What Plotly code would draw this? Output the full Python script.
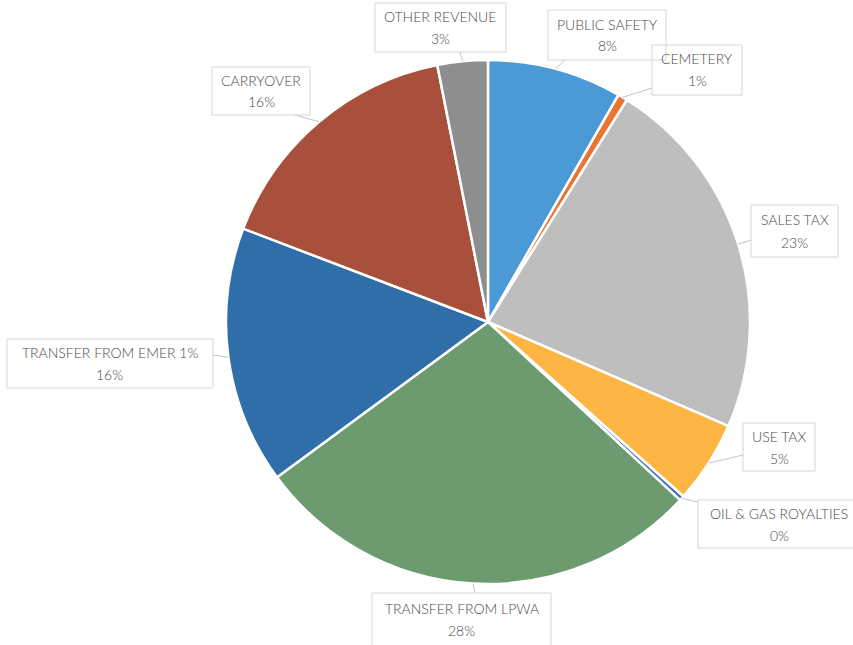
import math
import plotly.graph_objects as go

# Revenue sources, clockwise from 12 o'clock
categories = ["PUBLIC SAFETY", "CEMETERY", "SALES TAX", "USE TAX", "OIL & GAS ROYALTIES",
              "TRANSFER FROM LPWA", "TRANSFER FROM EMER 1%", "CARRYOVER", "OTHER REVENUE"]
shares = [8.3, 0.6, 22.6, 5.1, 0.3, 28.0, 15.9, 16.1, 3.1]
colors = ["#4B9AD6", "#EC7431", "#BEBEBE", "#FDB544", "#3F6FBF",
          "#6B9B6F", "#2F6EA8", "#A8503B", "#8E8E8E"]

W, H = 853, 645
CX, CY, R = 488, 322, 262  # pie centre and radius in pixels


def px(x):
    return x / W


def py(y):
    return 1 - y / H


total = sum(shares)
pct_labels = [f"{round(v / total * 100)}%" for v in shares]

fig = go.Figure(go.Pie(
    labels=categories,
    values=shares,
    sort=False,
    direction="clockwise",
    rotation=0,
    marker=dict(colors=colors, line=dict(color="white", width=2.5)),
    textinfo="none",
    hoverinfo="label+percent",
    showlegend=False,
    domain=dict(x=[px(CX - R), px(CX + R)], y=[py(CY + R), py(CY - R)]),
))

# label boxes: (left, top, right, bottom) and the point where the leader attaches
boxes = [
    ((548, 10, 666, 60), (565, 60)),
    ((652, 45, 742, 95), (652, 88)),
    ((751, 205, 838, 257), (751, 240)),
    ((743, 423, 815, 471), (743, 455)),
    ((698, 500, 860, 548), (698, 502)),
    ((372, 593, 551, 646), (475, 593)),
    ((7, 339, 213, 388), (213, 355)),
    ((212, 67, 310, 115), (295, 115)),
    ((375, 3, 506, 52), (460, 52)),
]

font = dict(family="Lato, 'Open Sans', sans-serif", size=14, color="#4A4A4A", weight=300)
shapes = []
annotations = []
cum = 0.0
for name, val, pct, (box, attach) in zip(categories, shares, pct_labels, boxes):
    mid = (cum + val / 2) / total * 2 * math.pi
    cum += val
    ex = CX + R * math.sin(mid)
    ey = CY - R * math.cos(mid)
    l, t, r, b = box
    shapes.append(dict(type="rect", xref="paper", yref="paper",
                       x0=px(l), x1=px(r), y0=py(b), y1=py(t),
                       line=dict(color="#D6D6D6", width=1), fillcolor="rgba(255,255,255,0)",
                       layer="above"))
    shapes.append(dict(type="line", xref="paper", yref="paper",
                       x0=px(ex), y0=py(ey), x1=px(attach[0]), y1=py(attach[1]),
                       line=dict(color="#C4C4C4", width=1), layer="above"))
    xc = (l + r) / 2
    yc = (t + b) / 2
    annotations.append(dict(text=name, x=px(xc), y=py(yc - 11), xref="paper", yref="paper",
                            xanchor="center", yanchor="middle", showarrow=False, font=font))
    annotations.append(dict(text=pct, x=px(xc), y=py(yc + 11), xref="paper", yref="paper",
                            xanchor="center", yanchor="middle", showarrow=False, font=font))

fig.update_layout(
    width=W, height=H,
    margin=dict(l=0, r=0, t=0, b=0),
    paper_bgcolor="white",
    plot_bgcolor="white",
    shapes=shapes,
    annotations=annotations,
)

fig.write_html("out.html")
